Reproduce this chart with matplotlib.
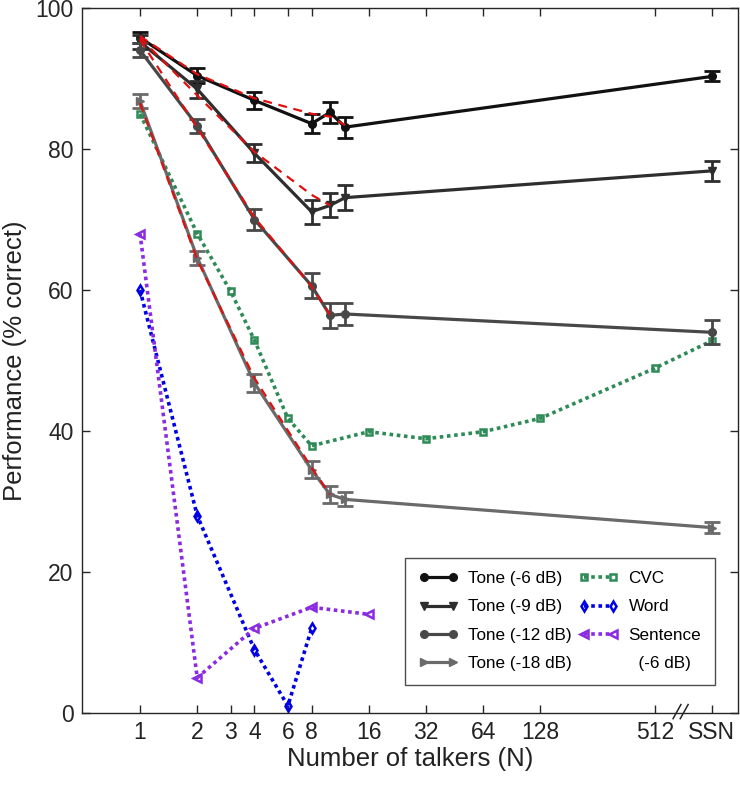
import matplotlib
matplotlib.use("Agg")
import matplotlib.pyplot as plt
import numpy as np

plt.rcParams['font.family'] = ['Liberation Sans', 'DejaVu Sans']

# number of talkers, SSN is drawn at 1024
n_tone = np.array([1, 2, 4, 8, 10, 12, 1024])
tone6 = np.array([95.8, 90.4, 86.9, 83.6, 85.2, 83.1, 90.3])
err6 = np.array([0.8, 1.1, 1.2, 1.4, 1.5, 1.5, 0.7])
tone9 = np.array([95.2, 88.5, 79.4, 71.1, 72.0, 73.1, 76.9])
err9 = np.array([1.0, 1.2, 1.3, 1.7, 1.7, 1.8, 1.4])
tone12 = np.array([94.0, 83.3, 70.0, 60.6, 56.4, 56.6, 54.0])
err12 = np.array([1.0, 1.0, 1.5, 1.8, 1.8, 1.6, 1.7])
tone18 = np.array([86.8, 64.6, 46.8, 34.5, 31.0, 30.3, 26.3])
err18 = np.array([1.0, 1.0, 1.3, 1.2, 1.2, 1.0, 0.8])

# red dashed model curves
n_mod6 = np.array([1, 2, 4, 8, 10, 12])
mod6 = np.array([96.0, 90.6, 87.2, 85.0, 84.6, 83.4])
n_mod = np.array([1, 2, 4, 8, 10])
mod9 = np.array([95.8, 87.6, 79.6, 73.5, 72.0])
mod12 = np.array([95.5, 83.0, 70.3, 60.5, 56.5])
mod18 = np.array([86.5, 64.3, 47.5, 34.8, 31.0])

cvc_n = np.array([1, 2, 3, 4, 6, 8, 16, 32, 64, 128, 512, 1024])
cvc = np.array([85.0, 68.0, 59.8, 52.9, 41.8, 37.9, 39.9, 38.9, 39.9, 41.8, 48.9, 52.8])
word_n = np.array([1, 2, 4, 6, 8])
word = np.array([60.0, 28.0, 9.0, 1.0, 12.0])
sent_n = np.array([1, 2, 4, 8, 16])
sent = np.array([68.0, 5.0, 12.0, 15.0, 14.0])

xticks = [1, 2, 3, 4, 6, 8, 16, 32, 64, 128, 512, 1024]
xticklabels = ['1', '2', '3', '4', '6', '8', '16', '32', '64', '128', '512', 'SSN']

fig = plt.figure(figsize=(7.4, 7.85), dpi=100)
ax = fig.add_axes([0.1108, 0.0917, 0.8865, 0.8981])
ax.set_xscale('log', base=2)

tones = [(tone6, err6, '#111111', 'o', 'Tone (-6 dB)'),
         (tone9, err9, '#2e2e2e', 'v', 'Tone (-9 dB)'),
         (tone12, err12, '#484848', 'o', 'Tone (-12 dB)'),
         (tone18, err18, '#6a6a6a', '>', 'Tone (-18 dB)')]
handles = []
for y, e, c, m, lab in tones:
    h, = ax.plot(n_tone, y, color=c, lw=2.3, marker=m, ms=5.5, label=lab, zorder=3)
    ax.errorbar(n_tone, y, yerr=e, fmt='none', ecolor=c, elinewidth=2, capsize=6, capthick=2, zorder=3)
    handles.append(h)

red = '#e01010'
ax.plot(n_mod6, mod6, color=red, lw=1.6, ls=(0, (4, 3)), zorder=4)
for y in [mod9, mod12, mod18]:
    ax.plot(n_mod, y, color=red, lw=1.6, ls=(0, (4, 3)), zorder=4)

dot = (0, (1, 1))
h, = ax.plot(cvc_n, cvc, color='#2e8b57', lw=2.6, ls=dot, marker='s', ms=5, mfc='none', mew=1.8, label='CVC')
handles.append(h)
h, = ax.plot(word_n, word, color='#0000e6', lw=2.6, ls=dot, marker='d', ms=5.5, mfc='none', mew=1.8, label='Word')
handles.append(h)
h, = ax.plot(sent_n, sent, color='#8a2be2', lw=2.6, ls=dot, marker='<', ms=5.5, mfc='none', mew=1.8, label='Sentence')
handles.append(h)
h, = ax.plot([], [], color='none', label='  (-6 dB)')
handles.append(h)

ax.set_xlim(0.495, 1404)
ax.set_ylim(0, 100)
ax.set_xticks(xticks)
ax.set_xticklabels(xticklabels)
ax.minorticks_off()
ax.set_yticks([0, 20, 40, 60, 80, 100])
ax.tick_params(direction='in', length=6, width=1, top=True, right=True, labelsize=16.5, colors='#262626', pad=6)
ax.tick_params(axis='x', labelcolor='#222222')
for s in ax.spines.values():
    s.set_color('#262626')
    s.set_linewidth(1)

# axis break mark
for dx in [-0.011, 0.0]:
    ax.plot([0.912 + dx, 0.924 + dx], [-0.008, 0.012], transform=ax.transAxes, color='#262626', lw=1.1, clip_on=False)

ax.set_xlabel('Number of talkers (N)', fontsize=18.5, color='#222222', labelpad=2)
ax.set_ylabel('Performance (% correct)', fontsize=18.5, color='#222222', labelpad=6)

leg = ax.legend(handles=handles, ncol=2, numpoints=2, fontsize=12.3, loc='lower right',
                bbox_to_anchor=(0.965, 0.04), borderaxespad=0, frameon=True, fancybox=False,
                edgecolor='#222222', handlelength=2.3, labelspacing=0.78, columnspacing=0.4,
                handletextpad=0.6, borderpad=0.8)
leg.get_frame().set_linewidth(1)

fig.savefig('out.png', dpi=100)
